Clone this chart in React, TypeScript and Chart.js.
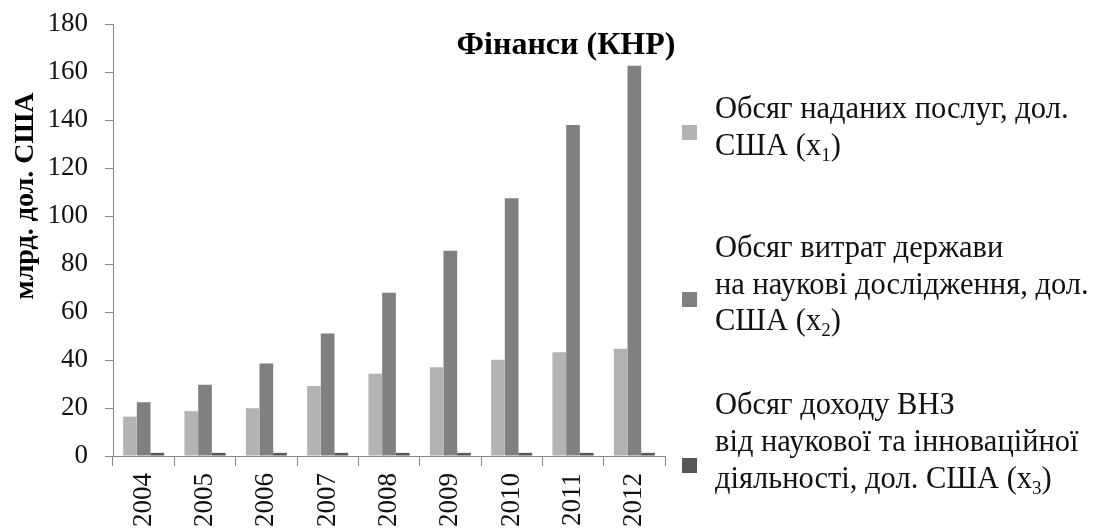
import React, { useEffect, useRef } from "react";
import { Chart, registerables } from "chart.js";

Chart.register(...registerables);

const years = ["2004", "2005", "2006", "2007", "2008", "2009", "2010", "2011", "2012"];
const servicesX1 = [16.4, 18.7, 19.9, 29.2, 34.3, 37.0, 40.1, 43.2, 44.7];
const govResearchX2 = [22.4, 29.7, 38.5, 51.0, 68.0, 85.5, 107.4, 137.9, 162.6];
const universityIncomeX3 = [1.3, 1.3, 1.3, 1.3, 1.3, 1.3, 1.3, 1.3, 1.3];

const seriesNames = [
  "Обсяг наданих послуг, дол. США (x1)",
  "Обсяг витрат держави на наукові дослідження, дол. США (x2)",
  "Обсяг доходу ВНЗ від наукової та інноваційної діяльності, дол. США (x3)",
];
// legend lines; the last line ends with "(x" followed by a subscript index
const legendLines1 = ["Обсяг наданих послуг, дол.", "США (x"];
const legendLines2 = ["Обсяг витрат держави", "на наукові дослідження, дол.", "США (x"];
const legendLines3 = ["Обсяг доходу ВНЗ", "від наукової та інноваційної", "діяльності, дол. США (x"];
const legendSubs = ["1", "2", "3"];
const colors = ["#b3b3b3", "#808080", "#565656"];

const chartTitle = "Фінанси (КНР)";
const yTitle = "млрд. дол. США";
const yTicks = { min: 0, max: 180, step: 20 };

const FONT = "'Liberation Serif', 'Times New Roman', serif";

const overlayPlugin = {
  id: "overlay",
  afterDraw(chart: any) {
    const ctx = chart.ctx as CanvasRenderingContext2D;
    ctx.save();
    // title
    ctx.fillStyle = "#000";
    ctx.font = `bold 32px ${FONT}`;
    ctx.textAlign = "center";
    ctx.textBaseline = "alphabetic";
    ctx.fillText(chartTitle, 566, 54);
    // y title
    ctx.save();
    ctx.translate(33, 196);
    ctx.rotate(-Math.PI / 2);
    ctx.font = `bold 28px ${FONT}`;
    ctx.fillText(yTitle, 0, 0);
    ctx.restore();
    // legend
    const groups = [legendLines1, legendLines2, legendLines3];
    const boxY = [125, 292, 458];
    const baselines = [[118, 155], [257, 294, 330], [414, 451, 488]];
    ctx.textAlign = "left";
    groups.forEach((lines, i) => {
      ctx.fillStyle = colors[i];
      ctx.fillRect(682, boxY[i], 15, 15);
      ctx.fillStyle = "#111";
      lines.forEach((line, j) => {
        ctx.font = `30.5px ${FONT}`;
        const y = baselines[i][j];
        ctx.fillText(line, 715, y);
        if (j === lines.length - 1) {
          let x = 715 + ctx.measureText(line).width;
          ctx.font = `19px ${FONT}`;
          ctx.fillText(legendSubs[i], x, y + 6);
          x += ctx.measureText(legendSubs[i]).width;
          ctx.font = `30.5px ${FONT}`;
          ctx.fillText(")", x, y);
        }
      });
    });
    ctx.restore();
  },
};

export default function App() {
  const ref = useRef<HTMLCanvasElement>(null);
  useEffect(() => {
    if (!ref.current) return;
    const axisColor = "#868686";
    const chart = new Chart(ref.current, {
      type: "bar",
      data: {
        labels: years,
        datasets: [
          { label: seriesNames[0], data: servicesX1, backgroundColor: colors[0] },
          { label: seriesNames[1], data: govResearchX2, backgroundColor: colors[1] },
          { label: seriesNames[2], data: universityIncomeX3, backgroundColor: colors[2] },
        ],
      },
      options: {
        animation: false,
        responsive: false,
        maintainAspectRatio: false,
        layout: { padding: { left: 0, top: 24, right: 432, bottom: 0 } },
        datasets: { bar: { categoryPercentage: 0.67, barPercentage: 1.0 } },
        plugins: { legend: { display: false }, title: { display: false }, tooltip: { enabled: false } },
        scales: {
          x: {
            grid: { drawOnChartArea: false, drawTicks: true, tickLength: 10, color: axisColor, offset: true },
            border: { color: axisColor, width: 1 },
            ticks: { color: "#111", font: { family: FONT, size: 27 }, minRotation: 90, maxRotation: 90, padding: 7, autoSkip: false },
            afterFit: (s: any) => { s.height = 73; s.paddingLeft = 0; s.paddingRight = 0; },
          },
          y: {
            min: yTicks.min,
            max: yTicks.max,
            grid: { drawOnChartArea: false, drawTicks: true, tickLength: 8, color: axisColor },
            border: { color: axisColor, width: 1 },
            ticks: { stepSize: yTicks.step, color: "#111", font: { family: FONT, size: 27 }, padding: 17 },
            afterFit: (s: any) => { s.width = 113; s.paddingTop = 0; s.paddingBottom = 0; },
          },
        },
      },
      plugins: [overlayPlugin],
    } as any);
    return () => chart.destroy();
  }, []);
  return (
    <div style={{ position: "fixed", left: 0, top: 0, width: 1097, height: 529, background: "#fff" }}>
      <canvas ref={ref} width={1097} height={529} style={{ width: 1097, height: 529 }} />
    </div>
  );
}
